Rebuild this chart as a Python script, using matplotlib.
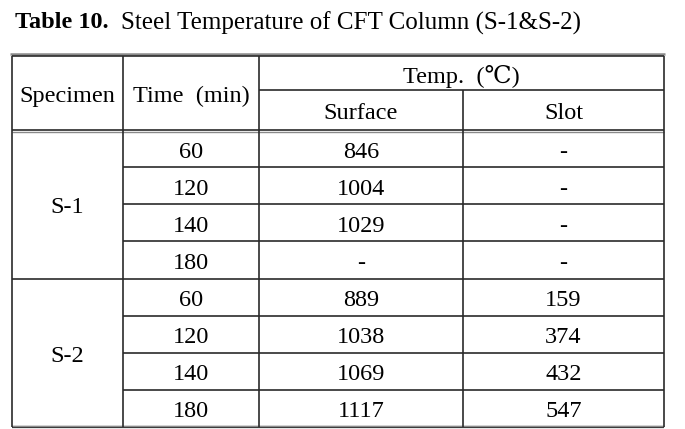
import matplotlib
matplotlib.use("Agg")
import matplotlib.pyplot as plt

# ---- data ----
title_bold = "Table 10."
title_rest = "Steel Temperature of CFT Column (S-1&S-2)"
header_cols = ["Specimen", "Time  (min)"]
header_group = "Temp.  (\u2103)"
header_sub = ["Surface", "Slot"]
specimens = ["S-1", "S-2"]
times = ["60", "120", "140", "180"]
surface_s1 = ["846", "1004", "1029", "-"]
slot_s1 = ["-", "-", "-", "-"]
surface_s2 = ["889", "1038", "1069", "1117"]
slot_s2 = ["159", "374", "432", "547"]

W, H = 685, 429
fig = plt.figure(figsize=(W / 100, H / 100), dpi=100)
ax = fig.add_axes([0, 0, 1, 1])
ax.set_xlim(0, W)
ax.set_ylim(H, 0)
ax.axis("off")

FONT = ["Liberation Serif", "DejaVu Serif"]
FS = 17.5
dark = "#2a2a2a"
gray = "#8a8a8a"

# geometry
xl, xr = 12, 664
cx = [xl, 123, 259, 463, xr]
top, hmid, hbot = 56, 90, 130
nrows = 8
rh = (427 - hbot) / nrows
ys = [hbot + i * rh for i in range(nrows + 1)]

def hline(y, x0, x1, c=dark, lw=1.2):
    ax.plot([x0, x1], [y, y], color=c, lw=lw, solid_capstyle="butt")

def vline(x, y0, y1, c=dark, lw=1.2):
    ax.plot([x, x], [y0, y1], color=c, lw=lw, solid_capstyle="butt")

# title
t1 = ax.text(15, 20.5, title_bold, fontsize=17.5, fontweight="bold", family=FONT,
             va="center_baseline", ha="left")
fig.canvas.draw()
bb = t1.get_window_extent()
x_after = bb.x1 + 12
ax.text(x_after, 20.5, title_rest, fontsize=18, family=FONT,
        va="center_baseline", ha="left")

# borders
hline(53.5, 10, 665, c=gray, lw=1.8)
hline(top, xl, xr)
hline(hbot, xl, xr)
hline(hbot + 1.5, xl, xr, c=gray, lw=1.0)
hline(hmid, cx[2], xr)
for i in range(1, nrows):
    y = ys[i]
    if i == 4:
        hline(y, xl, xr)
    else:
        hline(y, cx[1], xr)
hline(427, xl, xr, lw=1.6)
hline(425.5, xl, xr, c=gray, lw=1.0)
for x in [cx[0], cx[1], cx[2], cx[4]]:
    vline(x, top, 427)
vline(cx[3], hmid, 427)

# header text
def cell(x, y, s):
    ax.text(x, y + 1, s, fontsize=FS, family=FONT, ha="center",
            va="center_baseline")

cell((cx[0] + cx[1]) / 2, (top + hbot) / 2, header_cols[0])
cell((cx[1] + cx[2]) / 2, (top + hbot) / 2, header_cols[1])
cell((cx[2] + cx[4]) / 2, (top + hmid) / 2, header_group)
cell((cx[2] + cx[3]) / 2, (hmid + hbot) / 2, header_sub[0])
cell((cx[3] + cx[4]) / 2, (hmid + hbot) / 2, header_sub[1])

# body
groups = [(surface_s1, slot_s1), (surface_s2, slot_s2)]
for g, (sp, (surf, slot)) in enumerate(zip(specimens, groups)):
    y0 = ys[g * 4]
    y1 = ys[g * 4 + 4]
    cell((cx[0] + cx[1]) / 2, (y0 + y1) / 2, sp)
    for r in range(4):
        yc = (ys[g * 4 + r] + ys[g * 4 + r + 1]) / 2
        cell((cx[1] + cx[2]) / 2, yc, times[r])
        cell((cx[2] + cx[3]) / 2, yc, surf[r])
        cell((cx[3] + cx[4]) / 2, yc, slot[r])

fig.savefig("out.png", dpi=100)
